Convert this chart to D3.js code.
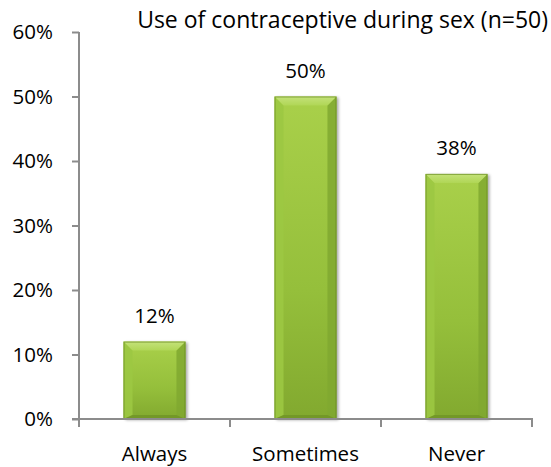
<!DOCTYPE html>
<html>
<head>
<meta charset="utf-8">
<script src="https://cdn.jsdelivr.net/npm/d3@7"></script>
<style>
  html, body { margin: 0; padding: 0; background: #fff; }
  svg { display: block; }
  text { font-family: "Open Sans", sans-serif; fill: #000; }
</style>
</head>
<body>
<svg id="chart" width="551" height="467"></svg>
<script>
// Survey responses: use of contraceptive during sex
const categories = ["Always", "Sometimes", "Never"];
const shares = [12, 50, 38];
const yTicks = [0, 10, 20, 30, 40, 50, 60];
const chartTitle = "Use of contraceptive during sex (n=50)";

const svg = d3.select("#chart");
const margin = { left: 79, right: 19, top: 32, bottom: 48 };
const W = 551, H = 467;
const FONT = "'Open Sans', sans-serif";
const LABEL_SIZE = "20.5px";

const x = d3.scaleBand()
  .domain(categories)
  .range([margin.left, W - margin.right])
  .paddingInner(0.59)
  .paddingOuter(0.295);

const y = d3.scaleLinear()
  .domain([0, 60])
  .range([H - margin.bottom, margin.top]);

const defs = svg.append("defs");

// body gradient: light lime at top fading to olive at the base
const body = defs.append("linearGradient").attr("id", "barBody")
  .attr("x1", 0).attr("y1", 0).attr("x2", 0).attr("y2", 1);
body.append("stop").attr("offset", "0%").attr("stop-color", "#a9d04a");
body.append("stop").attr("offset", "60%").attr("stop-color", "#95bf3b");
body.append("stop").attr("offset", "100%").attr("stop-color", "#82a92f");

const topBevel = defs.append("linearGradient").attr("id", "bevelTop")
  .attr("x1", 0).attr("y1", 0).attr("x2", 0).attr("y2", 1);
topBevel.append("stop").attr("offset", "0%").attr("stop-color", "#c4e27a");
topBevel.append("stop").attr("offset", "100%").attr("stop-color", "#b0d656");

const shadow = defs.append("filter").attr("id", "barShadow")
  .attr("x", "-20%").attr("y", "-10%").attr("width", "140%").attr("height", "130%");
shadow.append("feGaussianBlur").attr("stdDeviation", 1.6);

// axes
const yAxis = d3.axisLeft(y).tickValues(yTicks).tickSize(7).tickPadding(19)
  .tickFormat(d => d + "%");
const gy = svg.append("g").attr("transform", `translate(${margin.left},0)`).call(yAxis);
gy.select(".domain").attr("stroke", "#8c8c8c").attr("stroke-width", 2)
  .attr("d", `M0,${y(60)}V${y(0)}`);
gy.selectAll(".tick line").attr("stroke", "#8c8c8c").attr("stroke-width", 2);
gy.selectAll(".tick text").style("font-size", LABEL_SIZE)
  .style("font-family", FONT).attr("fill", "#000");

// x-axis with tick marks at band boundaries
const gx = svg.append("g");
const x0 = x.range()[0], x1 = x.range()[1];
gx.append("line").attr("x1", x0 - 7).attr("x2", x1 + 1)
  .attr("y1", y(0)).attr("y2", y(0)).attr("stroke", "#8c8c8c").attr("stroke-width", 2);
const bounds = [x0].concat(categories.map(c => x(c) - x.step() * x.paddingInner() / 2 + x.step()));
gx.selectAll("line.tk").data(bounds).join("line").attr("class", "tk")
  .attr("x1", d => d).attr("x2", d => d)
  .attr("y1", y(0)).attr("y2", y(0) + 8)
  .attr("stroke", "#8c8c8c").attr("stroke-width", 2);
gx.selectAll("text.cat").data(categories).join("text").attr("class", "cat")
  .attr("x", d => x(d) + x.bandwidth() / 2)
  .attr("y", y(0) + 42)
  .attr("text-anchor", "middle")
  .style("font-size", LABEL_SIZE)
  .text(d => d);

// bars
const data = categories.map((c, i) => ({ c, v: shares[i] }));
const bars = svg.append("g").selectAll("g.bar").data(data).join("g").attr("class", "bar");

bars.append("rect")
  .attr("x", d => x(d.c) + 2)
  .attr("y", d => y(d.v) + 1)
  .attr("width", x.bandwidth())
  .attr("height", d => y(0) - y(d.v))
  .attr("fill", "#000").attr("opacity", 0.35)
  .attr("filter", "url(#barShadow)");

bars.append("rect")
  .attr("x", d => x(d.c))
  .attr("y", d => y(d.v))
  .attr("width", x.bandwidth())
  .attr("height", d => y(0) - y(d.v))
  .attr("fill", "url(#barBody)");

const bv = 9;
// left / right bevel edges
bars.append("path")
  .attr("d", d => {
    const l = x(d.c), t = y(d.v), b = y(0);
    return `M${l},${t}L${l + bv},${t + bv}L${l + bv},${b - 4}L${l},${b}Z`;
  })
  .attr("fill", "#9cc842").attr("opacity", 0.9);
bars.append("path")
  .attr("d", d => {
    const r = x(d.c) + x.bandwidth(), t = y(d.v), b = y(0);
    return `M${r},${t}L${r - bv},${t + bv}L${r - bv},${b - 4}L${r},${b}Z`;
  })
  .attr("fill", "#80a830").attr("opacity", 0.85);
// bottom bevel
bars.append("path")
  .attr("d", d => {
    const l = x(d.c), r = l + x.bandwidth(), b = y(0);
    return `M${l},${b}L${l + bv},${b - 4}L${r - bv},${b - 4}L${r},${b}Z`;
  })
  .attr("fill", "#6f9325").attr("opacity", 0.8);
// top bevel
bars.append("path")
  .attr("d", d => {
    const l = x(d.c), r = l + x.bandwidth(), t = y(d.v);
    return `M${l},${t}L${r},${t}L${r - bv},${t + bv}L${l + bv},${t + bv}Z`;
  })
  .attr("fill", "url(#bevelTop)");
// thin dark outline on the sides
bars.append("rect")
  .attr("x", d => x(d.c) + 0.5)
  .attr("y", d => y(d.v) + 0.5)
  .attr("width", x.bandwidth() - 1)
  .attr("height", d => y(0) - y(d.v) - 1)
  .attr("fill", "none").attr("stroke", "#6a8c22").attr("stroke-width", 1).attr("opacity", 0.7);

// value labels
bars.append("text")
  .attr("x", d => x(d.c) + x.bandwidth() / 2)
  .attr("y", d => y(d.v) - 19)
  .attr("text-anchor", "middle")
  .style("font-size", LABEL_SIZE)
  .text(d => d.v + "%");

// redraw the baseline above the bars
svg.append("line").attr("x1", x0).attr("x2", x1 + 1)
  .attr("y1", y(0)).attr("y2", y(0)).attr("stroke", "#8c8c8c").attr("stroke-width", 2);

// title
svg.append("text")
  .attr("x", 548).attr("y", 28)
  .attr("text-anchor", "end")
  .style("font-size", "23px")
  .text(chartTitle);
</script>
</body>
</html>
